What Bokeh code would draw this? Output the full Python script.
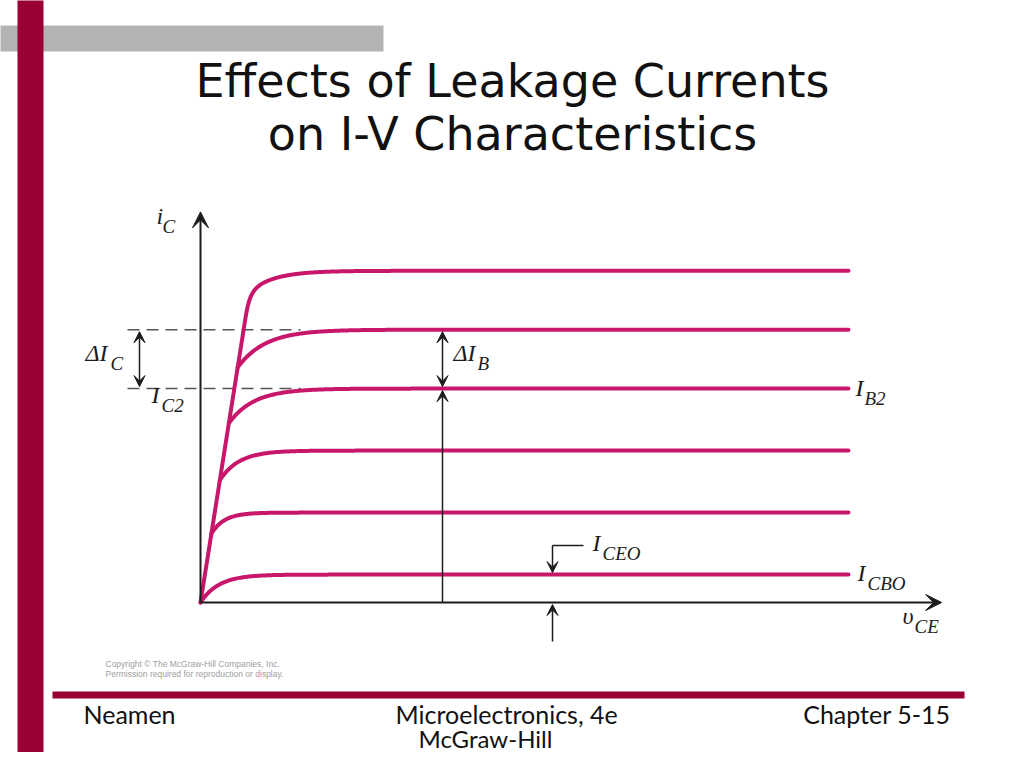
import numpy as np
from bokeh.plotting import figure
from bokeh.models import Range1d, Label, Arrow, VeeHead
from bokeh.embed import file_html
from bokeh.resources import INLINE

# ---------------- data (schematic BJT output characteristics) ----------------
ic_levels = [0.45, 1.45, 2.45, 3.45, 4.40, 5.35]   # flat iC of each curve (lowest = I_CEO)
knee_ic = [0.00, 1.11, 1.97, 2.89, 3.79]            # iC where lower curves leave the saturation line
knee_tau = [0.45, 0.32, 0.47, 0.62, 0.68]           # knee sharpness (V)
sat_slope = 4.13     # mA per V of the saturation line
top_fast = [0.355, 0.10]   # top-curve knee: fast part (mA, V)
top_slow = [0.387, 0.62]   # top-curve knee: slow tail (mA, V)
v_max = 16.0         # end of curves
v_axis_end = 18.3
i_axis_end = 6.3
ib2_index = 3        # curve labelled I_B2

# ---------------- layout helpers (page pixels -> chart units) ----------------
SX, SY = 40.5, 62.0
OX, OY = 200.0, 602.0


def X(px):
    return (px - OX) / SX


def Y(py):
    return (OY - py) / SY


CURVE = "#c8176b"
INK = "#1c1c1c"
RED = "#990033"

p = figure(width=1008, height=752, output_backend="svg", toolbar_location=None,
           x_range=Range1d(X(0), X(1008)), y_range=Range1d(Y(752), Y(0)),
           min_border=0, min_border_left=0, min_border_right=0,
           min_border_top=0, min_border_bottom=0)
p.axis.visible = False
p.grid.visible = False
p.outline_line_color = None
p.background_fill_color = "white"
p.border_fill_color = "white"


def text(px, py, txt, size, font, align="left", style="normal", color="#111111"):
    # py is the intended baseline in page pixels; compensate renderer's baseline offset
    p.add_layout(Label(x=X(px), y=Y(py - 0.42 * size), text=txt, text_align=align,
                       text_baseline="alphabetic", text_font=font, text_font_style=style,
                       text_font_size=f"{size}px", text_color=color))


# ---------------- slide decorations ----------------
p.quad(left=X(-5), right=X(383), top=Y(25), bottom=Y(51), fill_color="#b3b3b3", line_color=None)
p.quad(left=X(17), right=X(43), top=Y(-5), bottom=Y(770), fill_color=RED, line_color=None)
p.quad(left=X(52), right=X(964), top=Y(691), bottom=Y(698), fill_color=RED, line_color=None)

text(512, 100, "Effects of Leakage Currents", 46, "DejaVu Sans", align="center")
text(512, 153, "on I-V Characteristics", 46, "DejaVu Sans", align="center")

FOOT = "Lato"
text(83, 724, "Neamen", 25, FOOT)
text(395, 724, "Microelectronics, 4e", 25, FOOT)
text(418, 748, "McGraw-Hill", 24, FOOT)
text(950, 724, "Chapter 5-15", 25, FOOT, align="right")

text(105, 667, "Copyright \u00a9 The McGraw-Hill Companies, Inc.", 8.5, "Liberation Sans", color="#a0a0a0")
text(105, 677, "Permission required for reproduction or display.", 8.5, "Liberation Sans", color="#a0a0a0")

# ---------------- dashed reference lines ----------------
top_i = ic_levels[ib2_index + 1]
low_i = ic_levels[ib2_index]
for lev in (top_i, low_i):
    p.line([X(127), X(300)], [lev, lev], line_color="#555555", line_width=1.5, line_dash="12 7")

# ---------------- characteristic curves ----------------
for k in range(len(knee_ic)):
    L = ic_levels[k]
    i0 = knee_ic[k]
    v0 = i0 / sat_slope
    v = np.linspace(v0, v_max, 500)
    i = L - (L - i0) * np.exp(-(v - v0) / knee_tau[k])
    p.line(v, i, line_color=CURVE, line_width=4, line_cap="round")

L = ic_levels[-1]
A, a = top_fast
B, b = top_slow
i1 = L - A - B
v1 = i1 / sat_slope
v_lin = np.array([0.0, v1])
v_cur = np.linspace(v1, v_max, 1500)
i_cur = L - A * np.exp(-(v_cur - v1) / a) - B * np.exp(-(v_cur - v1) / b)
p.line(np.concatenate([v_lin, v_cur]), np.concatenate([sat_slope * v_lin, i_cur]),
       line_color=CURVE, line_width=4, line_cap="round", line_join="round")

# ---------------- axes ----------------
def head(sz):
    return VeeHead(size=sz, fill_color=INK, line_color=INK, line_width=1)

p.add_layout(Arrow(end=head(16), x_start=0, y_start=0, x_end=0, y_end=i_axis_end,
                   line_color=INK, line_width=2))
p.add_layout(Arrow(end=head(16), x_start=0, y_start=0, x_end=v_axis_end, y_end=0,
                   line_color=INK, line_width=2))

gap = 2.0 / SY
# Delta I_C
p.add_layout(Arrow(start=head(11), end=head(11), x_start=X(139), y_start=top_i - gap,
                   x_end=X(139), y_end=low_i + gap, line_color=INK, line_width=1.5))
# Delta I_B
p.add_layout(Arrow(start=head(11), end=head(11), x_start=X(442), y_start=top_i - gap,
                   x_end=X(442), y_end=low_i + gap, line_color=INK, line_width=1.5))
# I_C2 arrow from axis
p.add_layout(Arrow(end=head(11), x_start=X(442), y_start=0, x_end=X(442), y_end=low_i - gap,
                   line_color=INK, line_width=1.5))
# I_CEO arrows
iceo = ic_levels[0]
p.line([X(583), X(552)], [Y(545), Y(545)], line_color=INK, line_width=1.5)
p.add_layout(Arrow(end=head(11), x_start=X(552), y_start=Y(545), x_end=X(552), y_end=iceo + gap,
                   line_color=INK, line_width=1.5))
p.add_layout(Arrow(end=head(11), x_start=X(552), y_start=Y(641), x_end=X(552), y_end=-gap,
                   line_color=INK, line_width=1.5))

# ---------------- math-style labels ----------------
SERIF = "Liberation Serif"


def mlabel(px, py, main, sub, sub_dx, sub_dy=8, size=24, ssize=19):
    text(px, py, main, size, SERIF, style="italic", color=INK)
    text(px + sub_dx, py + sub_dy, sub, ssize, SERIF, style="italic", color=INK)


mlabel(156, 226, "i", "C", 6)
mlabel(85, 363, "\u0394I", "C", 25)
mlabel(151, 405, "I", "C2", 10)
mlabel(453, 363, "\u0394I", "B", 24)
mlabel(855, 398, "I", "B2", 9)
mlabel(857, 583, "I", "CBO", 10)
mlabel(592, 553, "I", "CEO", 10)
mlabel(902, 626, "\u03c5", "CE", 12)

open("out.html", "w").write(file_html(p, INLINE))
